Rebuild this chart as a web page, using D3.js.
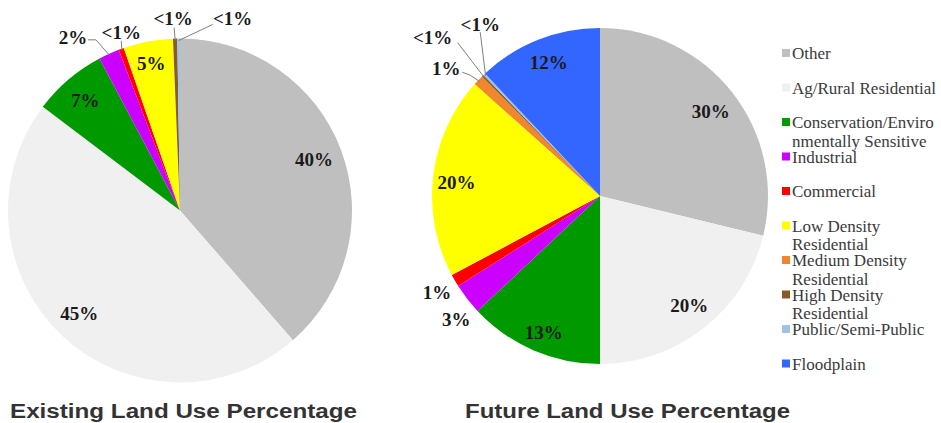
<!DOCTYPE html>
<html>
<head>
<meta charset="utf-8">
<script src="https://cdn.jsdelivr.net/npm/d3@7"></script>
<style>
  html, body { margin: 0; padding: 0; background: #ffffff; }
  svg { display: block; }
</style>
</head>
<body>
<svg id="chart" width="941" height="423"></svg>
<script>
// ---------- data ----------
const categories = [
  "Other", "Ag/Rural Residential", "Conservation/Environmentally Sensitive",
  "Industrial", "Commercial", "Low Density Residential",
  "Medium Density Residential", "High Density Residential",
  "Public/Semi-Public", "Floodplain"
];
const legendLines = [
  ["Other"], ["Ag/Rural Residential"], ["Conservation/Enviro", "nmentally Sensitive"],
  ["Industrial"], ["Commercial"], ["Low Density", "Residential"],
  ["Medium Density", "Residential"], ["High Density", "Residential"],
  ["Public/Semi-Public"], ["Floodplain"]
];
const colors = [
  "#bfbfbf", "#f0f0f0", "#009a00", "#cc00ff", "#ff0000",
  "#ffff00", "#f0872d", "#8b5a2b", "#9dc3e6", "#3366ff"
];
const existingValues = [38.6, 46.7, 6.95, 1.95, 0.5, 4.65, 0, 0.4, 0.25, 0];
const futureValues   = [28.8, 21.2, 13, 3, 1.2, 19.4, 1.0, 0.2, 0.2, 12];
const existingLabels = ["40%", "45%", "7%", "2%", "<1%", "5%", "", "<1%", "<1%", ""];
const futureLabels   = ["30%", "20%", "13%", "3%", "1%", "20%", "1%", "<1%", "<1%", "12%"];
const titles = ["Existing Land Use Percentage", "Future Land Use Percentage"];

// ---------- label layout (relative to each slice) ----------
// f: radius fraction for anchor; dx,dy: nudge; leader: points relative to label centre
const existingLayout = [
  {f: 0.82, dx: 2, dy: -2},
  {f: 0.80, dx: -7, dy: 2},
  {f: 0.85, dx: 0, dy: 1},
  {f: 1.0, dx: -36, dy: -16, leader: [[15, 2], [23, 2]]},
  {f: 1.0, dx: 0, dy: -16, leader: [[0, 8]]},
  {f: 0.87, dx: -1, dy: 0},
  null,
  {f: 1.0, dx: -2, dy: -20, leader: [[1, 9]]},
  {f: 1.0, dx: 54, dy: -20, leader: [[-20, 6]]},
  null
];
const futureLayout = [
  {f: 0.83, dx: 1, dy: 2},
  {f: 0.85, dx: 1, dy: -3},
  {f: 0.89, dx: 3, dy: -1},
  {f: 1.0, dx: -11, dy: 21},
  {f: 1.0, dx: -18, dy: 12},
  {f: 0.86, dx: 0, dy: 4},
  {f: 1.0, dx: -32, dy: -12, leader: [[16, 4], [24, 7]]},
  {f: 1.0, dx: -50, dy: -38, leader: [[25, 5]]},
  {f: 1.0, dx: -4, dy: -50, leader: [[0, 8]]},
  {f: 0.86, dx: 2, dy: 1}
];

// ---------- drawing ----------
const svg = d3.select("#chart");
const pie = d3.pie().sort(null).value(d => d);

const charts = [
  {values: existingValues, labels: existingLabels, layout: existingLayout, cx: 180, cy: 210.5, r: 172, titleX: 183.5, titleW: 347},
  {values: futureValues, labels: futureLabels, layout: futureLayout, cx: 600, cy: 196, r: 168, titleX: 627.5, titleW: 325}
];

charts.forEach((c, ci) => {
  const g = svg.append("g").attr("transform", `translate(${c.cx},${c.cy})`);
  const arcs = pie(c.values);
  const arc = d3.arc().innerRadius(0).outerRadius(c.r);

  g.selectAll("path.slice")
    .data(arcs.filter(a => a.value > 0))
    .join("path")
    .attr("class", "slice")
    .attr("d", arc)
    .attr("fill", d => colors[d.index]);

  arcs.forEach((a, i) => {
    const lay = c.layout[i];
    const txt = c.labels[i];
    if (!lay || !txt) return;
    const mid = (a.startAngle + a.endAngle) / 2;
    const px = Math.sin(mid) * c.r * lay.f;
    const py = -Math.cos(mid) * c.r * lay.f;
    const lx = px + lay.dx, ly = py + lay.dy;
    if (lay.leader) {
      const pts = lay.leader.map(p => [lx + p[0], ly + p[1]]);
      const ex = Math.sin(mid) * (c.r - 2), ey = -Math.cos(mid) * (c.r - 2);
      pts.push([ex, ey]);
      g.append("path")
        .attr("d", d3.line()(pts))
        .attr("fill", "none")
        .attr("stroke", "#7f7f7f")
        .attr("stroke-width", 1);
    }
    g.append("text")
      .attr("x", lx)
      .attr("y", ly)
      .attr("text-anchor", "middle")
      .attr("dominant-baseline", "central")
      .attr("font-family", "'Liberation Serif', 'Times New Roman', serif")
      .attr("font-weight", "bold")
      .attr("font-size", 19)
      .attr("fill", "#1a1a1a")
      .text(txt);
  });

  svg.append("text")
    .attr("x", c.titleX)
    .attr("y", 418)
    .attr("text-anchor", "middle")
    .attr("font-family", "'Liberation Sans', Arial, sans-serif")
    .attr("font-weight", "bold")
    .attr("font-size", 20)
    .attr("fill", "#333333")
    .attr("textLength", c.titleW)
    .attr("lengthAdjust", "spacingAndGlyphs")
    .text(titles[ci]);
});

// ---------- legend ----------
const ly = d3.scalePoint().domain(categories).range([53, 363.5]);
const leg = svg.append("g");
categories.forEach((cat, i) => {
  const y = ly(cat);
  leg.append("rect")
    .attr("x", 782).attr("y", y - 4).attr("width", 8).attr("height", 8)
    .attr("fill", colors[i]);
  const t = leg.append("text")
    .attr("x", 792)
    .attr("y", y)
    .attr("dominant-baseline", "central")
    .attr("font-family", "'Liberation Serif', 'Times New Roman', serif")
    .attr("font-size", 17)
    .attr("fill", "#3a3a3a");
  legendLines[i].forEach((line, j) => {
    t.append("tspan").attr("x", 792).attr("dy", j === 0 ? 0 : 18.5).text(line);
  });
});
</script>
</body>
</html>
